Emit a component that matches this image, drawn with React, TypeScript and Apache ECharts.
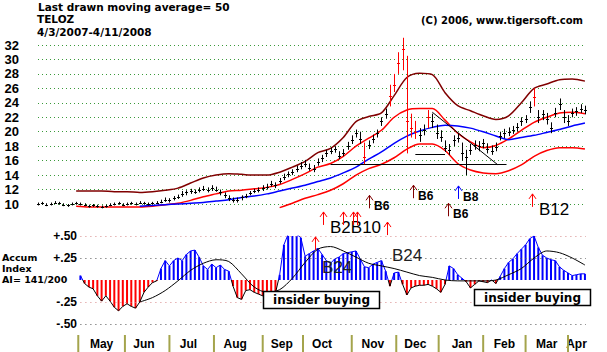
import { useEffect, useRef } from "react";
import * as echarts from "echarts";

const FONT = '"Liberation Sans", Arial, sans-serif';
const WIDE_FONT = '"DejaVu Sans", Verdana, sans-serif';

// ---------- price bars: one bar every 2 trading days (day 0 = 4/3/2007) ----------
const barStepDays = 2;
const priceHigh = [
  10.2, 10.3, 10.1, 10.2, 10.4, 10.3, 10.1, 10.0, 10.2, 10.3,
  10.2, 10.1, 9.9, 10.0, 9.9, 9.8, 9.9, 10.1, 10.2, 10.3,
  10.1, 10.2, 10.3, 10.2, 10.4, 10.3, 10.2, 10.3, 10.4, 10.6,
  10.9, 10.8, 11.1, 11.3, 11.8, 11.9, 12.1, 12.0, 12.3, 12.5,
  12.3, 12.6, 12.4, 12.0, 11.6, 11.2, 10.9, 10.9, 11.2, 11.4,
  11.8, 12.1, 12.3, 12.6, 12.8, 13.2, 13.0, 13.6, 14.2, 14.5,
  14.8, 15.3, 15.8, 16.1, 15.6, 15.4, 16.3, 16.8, 17.5, 17.8,
  18.0, 17.3, 17.6, 18.6, 19.5, 20.3, 20.0, 18.5, 18.8, 19.6,
  20.3, 22.0, 23.2, 26.5, 28.0, 31.0, 33.0, 30.5, 22.5, 21.5,
  20.5, 21.0, 23.0, 22.5, 21.0, 20.2, 18.8, 18.3, 19.5, 19.8,
  18.5, 17.5, 18.3, 18.8, 18.7, 19.0, 18.4, 18.1, 18.5, 20.0,
  20.4, 20.6, 20.8, 21.2, 22.0, 22.3, 24.2, 26.0, 23.0, 23.0,
  22.6, 21.3, 23.3, 24.6, 23.0, 22.3, 23.2, 23.4, 23.8, 23.6,
];
const priceLow = [
  9.8, 9.9, 9.7, 9.8, 10.0, 9.9, 9.7, 9.6, 9.8, 9.9,
  9.8, 9.7, 9.5, 9.6, 9.5, 9.4, 9.5, 9.7, 9.8, 9.9,
  9.7, 9.8, 9.9, 9.8, 10.0, 9.9, 9.8, 9.9, 10.0, 10.1,
  10.3, 10.2, 10.5, 10.7, 11.0, 11.2, 11.4, 11.4, 11.6, 11.8,
  11.6, 11.8, 11.7, 11.2, 10.8, 10.4, 10.2, 10.2, 10.5, 10.8,
  11.2, 11.5, 11.6, 11.8, 12.0, 12.4, 12.2, 12.8, 13.3, 13.7,
  14.0, 14.4, 14.8, 15.1, 14.6, 14.4, 15.3, 15.8, 16.5, 16.9,
  17.1, 16.2, 16.6, 17.5, 18.3, 19.2, 18.3, 15.5, 17.6, 18.4,
  19.2, 20.8, 21.8, 23.5, 25.5, 28.0, 28.5, 17.0, 19.2, 19.0,
  18.6, 19.5, 20.5, 20.5, 19.0, 18.6, 17.2, 16.8, 18.0, 18.5,
  16.0, 14.0, 16.8, 17.5, 17.3, 17.7, 17.0, 16.8, 17.3, 18.8,
  19.1, 19.4, 19.7, 20.0, 20.8, 21.2, 22.6, 23.5, 21.2, 21.6,
  21.0, 19.8, 22.0, 23.0, 21.2, 20.8, 22.0, 22.2, 22.6, 22.4,
];
const priceClose = [
  10.0, 10.1, 9.9, 10.0, 10.2, 10.1, 9.9, 9.8, 10.0, 10.1,
  10.0, 9.9, 9.7, 9.8, 9.7, 9.6, 9.7, 9.9, 10.0, 10.1,
  9.9, 10.0, 10.1, 10.0, 10.2, 10.1, 10.0, 10.1, 10.2, 10.3,
  10.6, 10.5, 10.8, 11.0, 11.4, 11.6, 11.8, 11.7, 12.0, 12.1,
  11.9, 12.2, 12.0, 11.6, 11.2, 10.8, 10.6, 10.5, 10.9, 11.1,
  11.5, 11.8, 11.9, 12.2, 12.4, 12.8, 12.6, 13.2, 13.8, 14.1,
  14.4, 14.9, 15.3, 15.6, 15.0, 14.9, 15.8, 16.3, 17.0, 17.4,
  17.6, 16.7, 17.1, 18.0, 18.9, 19.8, 19.0, 16.5, 18.2, 19.0,
  19.8, 21.5, 22.4, 25.0, 26.5, 29.5, 31.5, 21.5, 20.5, 20.0,
  19.5, 20.3, 22.0, 21.5, 19.8, 19.3, 17.8, 17.5, 18.8, 19.2,
  17.0, 16.5, 17.5, 18.2, 18.0, 18.4, 17.6, 17.4, 17.9, 19.4,
  19.8, 20.0, 20.3, 20.6, 21.5, 21.8, 23.4, 24.8, 22.0, 22.4,
  21.8, 20.5, 22.6, 23.8, 22.0, 21.5, 22.6, 22.8, 23.2, 23.0,
];
const redBarDays = [154, 166, 168, 170, 172, 174, 176, 178, 184, 234];

// ---------- bands: one point every 6 trading days ----------
const bandStepDays = 6;
const outerUpperBand = [
  null, null, null,
  11.8, 11.8, 11.8, 11.7, 11.7, 11.6, 11.7, 11.9, 12.2, 12.9,
  13.6, 14.0, 14.2, 14.1, 14.0, 14.0, 14.4, 15.1, 15.9, 17.1,
  17.7, 19.2, 21.4, 22.1, 22.6, 25.0, 27.5, 28.1, 27.9, 25.4,
  23.6, 22.9, 22.2, 21.7, 22.2, 24.0, 26.0, 26.6, 27.2, 27.3,
  27.0,
];
const innerUpperBand = [
  null, null, null,
  9.7, 9.6, 9.6, 9.6, 9.6, 9.6, 9.7, 9.9, 10.1, 10.5,
  11.0, 11.4, 11.8, 11.9, 12.1, 12.3, 12.7, 13.4, 14.2, 15.1,
  15.6, 16.6, 18.0, 19.1, 20.2, 22.0, 23.0, 23.2, 23.2, 21.6,
  19.8, 18.6, 17.8, 18.1, 19.0, 20.2, 21.3, 22.0, 22.6, 22.7,
  22.5,
];
const movingAverage50 = [
  null, null, null, null, null, null, null, null,
  9.7, 9.8, 9.9, 10.0, 10.1, 10.2, 10.4, 10.6, 10.9, 11.1,
  11.4, 11.8, 12.2, 12.6, 13.1, 13.6, 14.3, 15.1, 16.2, 17.2,
  18.4, 19.4, 20.1, 20.6, 20.9, 20.8, 20.5, 20.0, 19.4, 18.9,
  19.2, 19.5, 19.9, 20.3, 20.8, 21.2,
];
const lowerBand = [
  null, null, null, null, null, null, null, null, null, null,
  null, null, null, null, null, null, null, null, null,
  9.5, 10.1, 10.8, 11.3, 11.9, 12.8, 14.0, 14.9, 15.5, 16.4,
  17.6, 18.3, 18.3, 17.4, 15.6, 14.7, 14.3, 14.2, 14.6, 15.4,
  16.6, 17.4, 17.8, 17.8, 17.6,
];

// support / trend lines
const trendStartDays = [138, 178, 186];
const trendStartValues = [15.5, 16.9, 22.7];
const trendEndDays = [221, 192, 217];
const trendEndValues = [15.5, 16.9, 15.4];

// ---------- accumulation index ----------
const accumStartDay = 20;
const accumStepDays = 2;
const accumIndex = [
  0.05, -0.04, -0.08, -0.10, -0.18, -0.24, -0.18, -0.24, -0.31, -0.35,
  -0.30, -0.27, -0.30, -0.32, -0.25, -0.14, -0.08, -0.03, -0.01, 0.13,
  0.22, 0.16, 0.22, 0.25, 0.22, 0.29, 0.33, 0.34, 0.26, 0.16,
  0.12, 0.18, 0.14, 0.17, 0.12, 0.10, -0.07, -0.20, -0.22, -0.12,
  -0.11, -0.14, -0.16, -0.18, -0.17, -0.16, -0.15, 0.06, 0.40, 0.52,
  0.53, 0.52, 0.48, 0.27, 0.30, 0.33, 0.36, 0.29, 0.22, 0.19,
  0.24, 0.26, 0.30, 0.31, 0.32, 0.33, 0.24, 0.15, 0.14, 0.18,
  0.20, 0.22, 0.10, -0.07, 0.08, 0.09, -0.05, -0.17, -0.09, -0.07,
  -0.06, -0.06, -0.05, -0.07, -0.10, -0.14, -0.05, 0.16, 0.13, 0.06,
  0.02, -0.02, -0.09, -0.05, -0.01, -0.02, -0.03, 0.00, -0.04, 0.04,
  0.13, 0.20, 0.24, 0.30, 0.35, 0.40, 0.47, 0.50, 0.37, 0.28,
  0.25, 0.23, 0.22, 0.15, 0.11, 0.08, 0.05, 0.06, 0.07, 0.07,
];
const accumAvgStartDay = 48;
const accumAvgStepDays = 6;
const accumAvg = [
  -0.25, -0.20, -0.12, -0.01, 0.11, 0.19, 0.23, 0.21, 0.07, -0.08,
  -0.14, -0.11, 0.02, 0.20, 0.35, 0.38, 0.33, 0.26, 0.19, 0.16,
  0.13, 0.09, 0.05, 0.03, 0.00, -0.01, -0.01, -0.01, 0.00, 0.06,
  0.13, 0.25, 0.33, 0.31, 0.25, 0.17,
];

// ---------- axes ----------
const priceAxisMin = 10;
const priceAxisMax = 32;
const priceAxisStep = 2;
const accumTickValues = [0.5, 0.25, -0.25, -0.5];
const accumTickTexts = ["+.50", "+.25", "-.25", "-.50"];
const lastDay = 258.5;

const monthNames = ["May", "Jun", "Jul", "Aug", "Sep", "Oct", "Nov", "Dec", "Jan", "Feb", "Mar", "Apr"];
const monthStartDays = [19, 41, 62, 83, 106, 125, 148, 169, 189, 210, 230, 250];
const monthLabelDays = [30, 50, 71, 93, 115, 134, 158, 178, 200, 220, 240, 254];

// ---------- signals ----------
const signalDays = [134.5, 144, 148.7, 150.5, 164.7, 156, 177, 193.5, 198, 233];
const signalTips = [8.9, 8.9, 8.9, 8.9, 7.5, 11.2, 12.6, 10.1, 12.5, 11.4];
const signalFamilies = ["red", "red", "red", "red", "red", "maroon", "maroon", "maroon", "blue", "red"];
const signalTexts = ["B2B10", "", "", "", "", "B6", "B6", "B6", "B8", "B12"];

const accumArrowDays = [130.7];
const accumArrowTips = [0.49];
const accumNoteDays = [134, 167];
const accumNoteLevels = [0.14, 0.28];
const accumNoteTexts = ["B24", "B24"];

const familyColor: Record<string, string> = { red: "#ff0000", maroon: "#800000", blue: "#0000ff" };

function arrowChildren(x: number, y: number, color: string) {
  return [
    { type: "line", shape: { x1: x, y1: y, x2: x, y2: y + 13 }, style: { stroke: color, lineWidth: 1 } },
    {
      type: "polyline",
      shape: { points: [[x - 3.5, y + 5], [x, y], [x + 3.5, y + 5]] },
      style: { stroke: color, fill: "none", lineWidth: 1 },
    },
  ];
}

export default function App() {
  const ref = useRef<HTMLDivElement>(null);

  useEffect(() => {
    if (!ref.current) return;
    const chart = echarts.init(ref.current, undefined, { renderer: "svg" });

    const barData = priceClose.map((c, i) => {
      const d = i * barStepDays;
      return [d, priceLow[i], priceHigh[i], c, redBarDays.includes(d) ? 1 : 0];
    });
    const band = (arr: (number | null)[]) =>
      arr.map((v, i) => [i * bandStepDays, v === null ? "-" : v]);
    const accumData = accumIndex.map((v, i) => [accumStartDay + i * accumStepDays, v]);
    const accumAvgData = accumAvg.map((v, i) => [accumAvgStartDay + i * accumAvgStepDays, v]);
    const signalData = signalDays.map((d, i) => [d, signalTips[i]]);
    const accumArrowData = accumArrowDays.map((d, i) => [d, accumArrowTips[i]]);
    const accumNoteData = accumNoteDays.map((d, i) => [d, accumNoteLevels[i]]);
    const monthTickData = monthStartDays.map((d) => [d, 1]);

    const xBase = {
      type: "value",
      min: 0,
      max: lastDay,
      axisLine: { show: false },
      axisTick: { show: false },
      axisLabel: { show: false },
      splitLine: { show: false },
    };

    const boldText = (text: string, x: number, y: number, size: number, extra: any = {}) => ({
      type: "text",
      x,
      y,
      z: 100,
      style: {
        text,
        fill: "#000",
        fontSize: size,
        fontWeight: "bold",
        fontFamily: WIDE_FONT,
        verticalAlign: "middle",
        textVerticalAlign: "middle",
        ...extra,
      },
    });

    const option: any = {
      animation: false,
      backgroundColor: "#ffffff",
      textStyle: { fontFamily: FONT },
      grid: [
        { left: 38, right: 21, top: 45, height: 159 },
        { left: 38, right: 21, top: 236, height: 88 },
        { left: 38, right: 21, top: 335, height: 17 },
      ],
      xAxis: [
        { ...xBase, gridIndex: 0 },
        {
          ...xBase,
          gridIndex: 1,
          axisLabel: {
            show: true,
            customValues: monthLabelDays,
            formatter: (v: number) => {
              const i = monthLabelDays.indexOf(v);
              return i >= 0 ? monthNames[i] : "";
            },
            margin: 14,
            color: "#000",
            fontWeight: "bold",
            fontSize: 12,
            fontFamily: FONT,
          },
        },
        { ...xBase, gridIndex: 2 },
      ],
      yAxis: [
        {
          gridIndex: 0,
          type: "value",
          min: priceAxisMin,
          max: priceAxisMax,
          interval: priceAxisStep,
          axisLine: { show: false },
          axisTick: { show: false },
          axisLabel: { margin: 19, color: "#000", fontWeight: "bold", fontSize: 13, fontFamily: FONT },
          splitLine: { show: true, lineStyle: { color: "#3a9a3a", type: [1, 3], width: 1 } },
        },
        {
          gridIndex: 1,
          type: "value",
          min: -0.5,
          max: 0.5,
          interval: 0.25,
          offset: -41,
          axisLine: { show: false },
          axisTick: { show: false },
          splitLine: { show: false },
          axisLabel: {
            margin: 2,
            color: "#000",
            fontWeight: "bold",
            fontSize: 12,
            fontFamily: FONT,
            formatter: (v: number) => {
              const i = accumTickValues.findIndex((t) => Math.abs(t - v) < 1e-9);
              return i >= 0 ? accumTickTexts[i] : "";
            },
          },
        },
        { gridIndex: 2, type: "value", min: 0, max: 1, show: false },
      ],
      visualMap: [
        {
          show: false,
          type: "piecewise",
          seriesIndex: 7,
          dimension: 1,
          pieces: [
            { gte: -1, lt: 0, color: "#000000" },
            { gte: 0, lte: 1, color: "#0000ff" },
          ],
          outOfRange: { color: "#000000" },
        },
      ],
      series: [
        {
          type: "custom",
          xAxisIndex: 0,
          yAxisIndex: 0,
          data: barData,
          encode: { x: 0, y: [1, 2, 3] },
          z: 5,
          renderItem: (_p: any, api: any) => {
            const d = api.value(0);
            const lo = api.coord([d, api.value(1)]);
            const hi = api.coord([d, api.value(2)]);
            const cl = api.coord([d, api.value(3)]);
            const color = api.value(4) ? "#ff0000" : "#000000";
            const x = Math.round(lo[0]) + 0.5;
            return {
              type: "group",
              children: [
                { type: "line", shape: { x1: x, y1: lo[1], x2: x, y2: hi[1] }, style: { stroke: color, lineWidth: 1 } },
                {
                  type: "line",
                  shape: { x1: x - 1.5, y1: Math.round(cl[1]) + 0.5, x2: x + 1.5, y2: Math.round(cl[1]) + 0.5 },
                  style: { stroke: color, lineWidth: 1 },
                },
              ],
            };
          },
        },
        {
          type: "line",
          xAxisIndex: 0,
          yAxisIndex: 0,
          data: band(outerUpperBand),
          smooth: 0.3,
          symbol: "none",
          clip: false,
          lineStyle: { color: "#800000", width: 1.5 },
          markLine: {
            silent: true,
            symbol: ["none", "none"],
            label: { show: false },
            lineStyle: { color: "#000000", type: "solid", width: 1 },
            data: trendStartDays.map((d, i) => [
              { coord: [d, trendStartValues[i]] },
              { coord: [trendEndDays[i], trendEndValues[i]] },
            ]),
          },
        },
        {
          type: "line",
          xAxisIndex: 0,
          yAxisIndex: 0,
          data: band(innerUpperBand),
          smooth: 0.3,
          symbol: "none",
          clip: false,
          lineStyle: { color: "#ff0000", width: 1.5 },
        },
        {
          type: "line",
          xAxisIndex: 0,
          yAxisIndex: 0,
          data: band(movingAverage50),
          smooth: 0.3,
          symbol: "none",
          clip: false,
          lineStyle: { color: "#0000ff", width: 1.5 },
        },
        {
          type: "line",
          xAxisIndex: 0,
          yAxisIndex: 0,
          data: band(lowerBand),
          smooth: 0.3,
          symbol: "none",
          clip: false,
          lineStyle: { color: "#ff0000", width: 1.5 },
        },
        {
          type: "custom",
          xAxisIndex: 0,
          yAxisIndex: 0,
          data: signalData,
          z: 20,
          renderItem: (p: any, api: any) => {
            const i = p.dataIndex;
            const pt = api.coord([api.value(0), api.value(1)]);
            const x = Math.round(pt[0]) + 0.5;
            const y = pt[1];
            const children: any[] = arrowChildren(x, y, familyColor[signalFamilies[i]]);
            const label = signalTexts[i];
            if (label) {
              const big = label.length > 2;
              children.push({
                type: "text",
                x: x + (big ? 6.5 : 4.5),
                y: y + (big ? 15.5 : 11),
                style: {
                  text: label,
                  fill: "#000",
                  fontSize: big ? 17 : 12,
                  fontWeight: big ? "normal" : "bold",
                  fontFamily: FONT,
                  align: "left",
                  verticalAlign: "middle",
                },
              });
            }
            return { type: "group", children };
          },
        },
        {
          type: "bar",
          xAxisIndex: 1,
          yAxisIndex: 1,
          data: accumData,
          barWidth: 2,
          itemStyle: {
            color: (p: any) => (p.value[1] >= 0 ? "#0000ff" : "#ff0000"),
          },
          markLine: {
            silent: true,
            symbol: ["none", "none"],
            label: { show: false },
            data: accumTickValues.map((v, i) => [
              {
                coord: [accumStartDay, v],
                lineStyle: { color: i % 2 === 0 ? "#d88a8a" : "#555555", type: [1, 4], width: 1 },
              },
              { coord: [lastDay, v] },
            ]),
          },
        },
        {
          type: "line",
          xAxisIndex: 1,
          yAxisIndex: 1,
          data: accumData,
          symbol: "none",
          lineStyle: { width: 1 },
          z: 3,
        },
        {
          type: "line",
          xAxisIndex: 1,
          yAxisIndex: 1,
          data: accumAvgData,
          smooth: 0.3,
          symbol: "none",
          lineStyle: { color: "#000000", width: 1 },
          z: 4,
        },
        {
          type: "custom",
          xAxisIndex: 1,
          yAxisIndex: 1,
          data: accumArrowData,
          z: 20,
          renderItem: (_p: any, api: any) => {
            const pt = api.coord([api.value(0), api.value(1)]);
            return { type: "group", children: arrowChildren(Math.round(pt[0]) + 0.5, pt[1], "#ff0000") };
          },
        },
        {
          type: "custom",
          xAxisIndex: 1,
          yAxisIndex: 1,
          data: accumNoteData,
          z: 20,
          renderItem: (p: any, api: any) => {
            const pt = api.coord([api.value(0), api.value(1)]);
            return {
              type: "text",
              x: pt[0],
              y: pt[1],
              style: {
                text: accumNoteTexts[p.dataIndex],
                fill: "#222",
                fontSize: 17,
                fontFamily: FONT,
                align: "left",
                verticalAlign: "middle",
              },
            };
          },
        },
        {
          type: "bar",
          xAxisIndex: 2,
          yAxisIndex: 2,
          data: monthTickData,
          barWidth: 2,
          itemStyle: { color: "#a4a44c" },
        },
      ],
      graphic: [
        boldText("Last drawn moving average= 50", 38, 6.5, 10.5),
        boldText("TELOZ", 37, 19, 10.5),
        boldText("4/3/2007-4/11/2008", 37, 31.5, 10.5),
        boldText("(C) 2006, www.tigersoft.com", 421, 20, 10),
        boldText("Accum", 2, 257.5, 9.5),
        boldText("Index", 2, 268.5, 9.5),
        boldText("AI= 141/200", 2, 279.5, 9.5),
        {
          type: "rect",
          z: 100,
          shape: { x: 263.5, y: 291.5, width: 116, height: 17 },
          style: { fill: "#ffffff", stroke: "#000000", lineWidth: 1.5 },
        },
        boldText("insider buying", 321.5, 300, 12, { align: "center", textAlign: "center" }),
        {
          type: "rect",
          z: 100,
          shape: { x: 474.5, y: 289.5, width: 116, height: 16 },
          style: { fill: "#ffffff", stroke: "#000000", lineWidth: 1.5 },
        },
        boldText("insider buying", 532.5, 297.5, 12, { align: "center", textAlign: "center" }),
      ],
    };

    chart.setOption(option);
    return () => chart.dispose();
  }, []);

  return (
    <div
      ref={ref}
      style={{ position: "fixed", left: 0, top: 0, width: 607, height: 352, background: "#ffffff" }}
    />
  );
}
